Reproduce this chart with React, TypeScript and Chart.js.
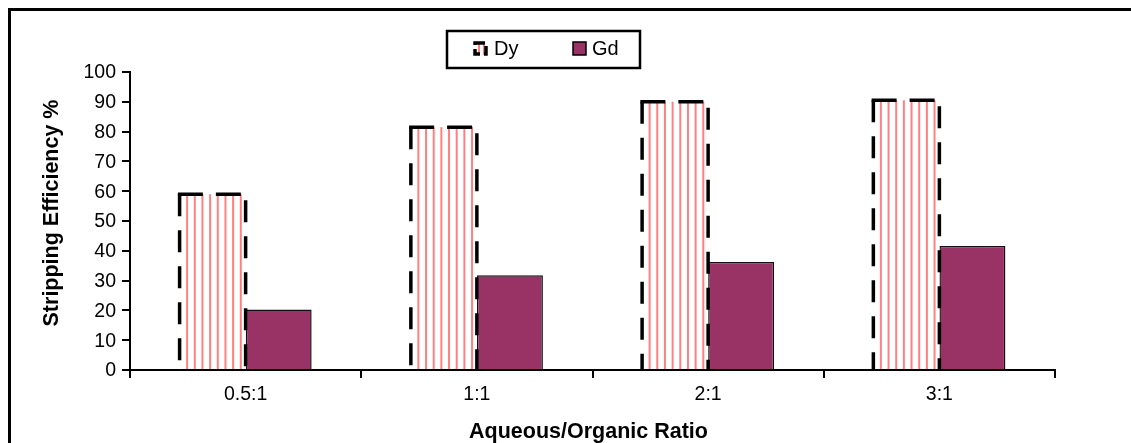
import React, { useEffect, useRef } from 'react';
import { Chart, registerables } from 'chart.js';

Chart.register(...registerables);

// ---- data ----
const categories = ['0.5:1', '1:1', '2:1', '3:1'];
const seriesNames = ['Dy', 'Gd'];
const dyValues = [59, 81.5, 90, 90.5];
const gdValues = [20.3, 31.8, 36.2, 41.6];
const yTickLabels = ['0', '10', '20', '30', '40', '50', '60', '70', '80', '90', '100'];
const xTitle = 'Aqueous/Organic Ratio';
const yTitle = 'Stripping Efficiency %';

// ---- style ----
const FONT = '"Liberation Sans", Arial, sans-serif';
const PINK = '#FF8080';
const GD_COLOR = '#993366';

function drawText(
  ctx: CanvasRenderingContext2D,
  text: string,
  x: number,
  y: number,
  font: string,
  align: CanvasTextAlign,
  rotate = false
) {
  ctx.save();
  ctx.translate(x, y);
  if (rotate) ctx.rotate(-Math.PI / 2);
  ctx.font = font;
  ctx.textAlign = align;
  ctx.textBaseline = 'middle';
  ctx.fillStyle = '#000';
  ctx.fillText(text, 0, 0);
  ctx.restore();
}

function drawStripes(ctx: CanvasRenderingContext2D, left: number, top: number, right: number, bottom: number, offset: number, step: number) {
  ctx.save();
  ctx.fillStyle = PINK;
  for (let sx = left + offset; sx < right - 2; sx += step) {
    ctx.fillRect(sx, top, 2, bottom - top);
  }
  ctx.restore();
}

function dashedSegment(ctx: CanvasRenderingContext2D, x1: number, y1: number, x2: number, y2: number, dash: number[], offset: number) {
  ctx.save();
  ctx.strokeStyle = '#000';
  ctx.lineWidth = 3.5;
  ctx.setLineDash(dash);
  ctx.lineDashOffset = offset;
  ctx.beginPath();
  ctx.moveTo(x1, y1);
  ctx.lineTo(x2, y2);
  ctx.stroke();
  ctx.restore();
}

const customPlugin = {
  id: 'customDecor',
  beforeDraw(chart: any) {
    const ctx = chart.ctx as CanvasRenderingContext2D;
    ctx.save();
    ctx.fillStyle = '#ffffff';
    ctx.fillRect(0, 0, chart.width, chart.height);
    ctx.fillStyle = '#000';
    ctx.fillRect(8, 8, chart.width, 3);
    ctx.fillRect(8, 8, 3, chart.height);
    ctx.restore();
  },
  afterDatasetsDraw(chart: any) {
    const ctx = chart.ctx as CanvasRenderingContext2D;
    const meta = chart.getDatasetMeta(0);
    meta.data.forEach((bar: any) => {
      const { x, y, base, width } = bar.getProps(['x', 'y', 'base', 'width'], true);
      const left = x - width / 2;
      const right = x + width / 2;
      drawStripes(ctx, left, y, right, base, 6.5, 7.67);
      // top: dash, gap, dash
      dashedSegment(ctx, left - 1.75, y, right + 1.75, y, [25, 13], 0);
      // left: starts with dash at the top
      dashedSegment(ctx, left, y, left, base, [22, 14], 0);
      // right: starts with a gap at the top
      dashedSegment(ctx, right, y, right, base, [22, 14], -6);
    });
  },
  afterDraw(chart: any) {
    const ctx = chart.ctx as CanvasRenderingContext2D;
    const xs = chart.scales.x;
    const ys = chart.scales.y;
    const tickFont = `19.5px ${FONT}`;
    yTickLabels.forEach((lbl) => {
      const py = ys.getPixelForValue(Number(lbl));
      drawText(ctx, lbl, 116, py + 1, tickFont, 'right');
    });
    categories.forEach((c, i) => {
      const px = xs.getPixelForValue(i);
      drawText(ctx, c, px, 395, tickFont, 'center');
    });
    const titleFont = `bold 21.5px ${FONT}`;
    drawText(ctx, xTitle, (xs.left + xs.right) / 2 - 4, 432, titleFont, 'center');
    drawText(ctx, yTitle, 52, (ys.top + ys.bottom) / 2 - 8, titleFont, 'center', true);

    // legend
    ctx.save();
    ctx.strokeStyle = '#000';
    ctx.lineWidth = 2.5;
    ctx.strokeRect(447, 31, 193, 37);
    // Dy marker
    ctx.fillStyle = '#fff';
    ctx.fillRect(474, 42, 13, 13);
    drawStripes(ctx, 474, 44, 487, 55, 4, 5);
    ctx.strokeStyle = '#000';
    ctx.lineWidth = 3.5;
    ctx.setLineDash([10, 4]);
    ctx.strokeRect(475, 43, 11, 11);
    ctx.setLineDash([]);
    // Gd marker
    ctx.fillStyle = GD_COLOR;
    ctx.fillRect(573, 42, 13, 13);
    ctx.lineWidth = 1.5;
    ctx.strokeRect(573, 42, 13, 13);
    ctx.restore();
    const legFont = `20px ${FONT}`;
    drawText(ctx, seriesNames[0], 494, 49, legFont, 'left');
    drawText(ctx, seriesNames[1], 592, 49, legFont, 'left');
  },
};

export default function App() {
  const canvasRef = useRef<HTMLCanvasElement | null>(null);

  useEffect(() => {
    if (!canvasRef.current) return;
    const chart = new Chart(canvasRef.current, {
      type: 'bar',
      data: {
        labels: categories,
        datasets: [
          {
            label: seriesNames[0],
            data: dyValues,
            backgroundColor: '#ffffff',
            borderWidth: 0,
          },
          {
            label: seriesNames[1],
            data: gdValues,
            backgroundColor: GD_COLOR,
            borderColor: '#111',
            borderWidth: 1.5,
          },
        ],
      },
      options: {
        animation: false,
        responsive: true,
        maintainAspectRatio: false,
        layout: { padding: { left: 0, right: 76, top: 72, bottom: 0 } },
        datasets: {
          bar: { categoryPercentage: 0.571, barPercentage: 1 },
        },
        plugins: {
          legend: { display: false },
          tooltip: { enabled: false },
          title: { display: false },
        },
        scales: {
          x: {
            offset: true,
            grid: {
              display: true,
              offset: true,
              drawOnChartArea: false,
              drawTicks: true,
              tickLength: 8,
              color: '#000',
              lineWidth: 2,
            },
            border: { display: true, color: '#000', width: 2 },
            ticks: { display: false },
            afterFit: (scale: any) => {
              scale.height = 73;
            },
          },
          y: {
            min: 0,
            max: 100,
            ticks: { display: false, stepSize: 10 },
            grid: {
              display: true,
              drawOnChartArea: false,
              drawTicks: true,
              tickLength: 8,
              color: '#000',
              lineWidth: 2,
            },
            border: { display: true, color: '#000', width: 2 },
            afterFit: (scale: any) => {
              scale.width = 130;
            },
          },
        },
      },
      plugins: [customPlugin],
    });
    return () => chart.destroy();
  }, []);

  return (
    <div style={{ position: 'absolute', left: 0, top: 0, width: 1131, height: 443 }}>
      <canvas ref={canvasRef} />
    </div>
  );
}
